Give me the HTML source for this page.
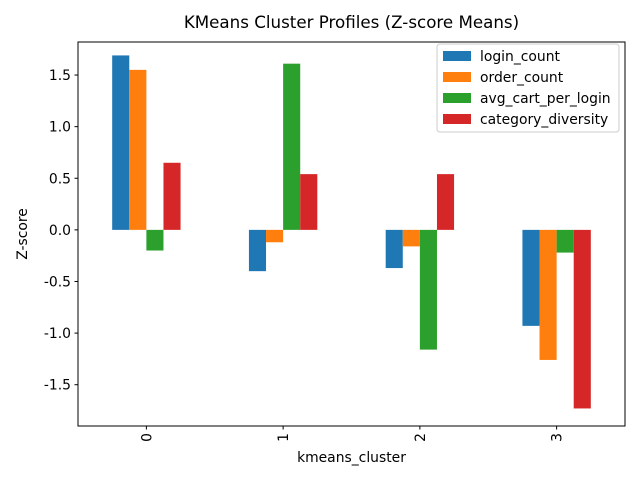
<!DOCTYPE html>
<html><head><meta charset="utf-8"><style>
body{margin:0;background:#fff;}
svg{font-family:"DejaVu Sans","Liberation Sans",sans-serif;}
</style></head><body>
<svg id="chart" width="640" height="480" xmlns="http://www.w3.org/2000/svg"></svg>
<script>
const categories = ["0","1","2","3"];
const seriesNames = ["login_count","order_count","avg_cart_per_login","category_diversity"];
const loginCount = [1.69,-0.40,-0.37,-0.93];
const orderCount = [1.55,-0.12,-0.16,-1.26];
const avgCart = [-0.20,1.61,-1.16,-0.22];
const categoryDiversity = [0.65,0.54,0.54,-1.73];
const yTicks = [-1.5,-1.0,-0.5,0.0,0.5,1.0,1.5];
const colors = ["#1f77b4","#ff7f0e","#2ca02c","#d62728"];
const series = [loginCount, orderCount, avgCart, categoryDiversity];

const NS="http://www.w3.org/2000/svg";
const svg=document.getElementById('chart');
const L=78,R=625,T=42,B=426;
const yMin=-1.90,yMax=1.82;
function y(v){return B-(v-yMin)/(yMax-yMin)*(B-T);}
const step=(R-L)/categories.length;
function xc(i){return L+step*(i+0.5);}
const bw=step*0.125;
function mk(tag,attrs,name,text){const e=document.createElementNS(NS,tag);for(const k in attrs)e.setAttribute(k,attrs[k]);


if(text!==undefined)e.textContent=text;svg.appendChild(e);return e;}

series.forEach((s,si)=>{
  s.forEach((v,i)=>{
    const x0=xc(i)-2*bw+si*bw;
    const y0=Math.min(y(v),y(0)), h=Math.abs(y(v)-y(0));
    mk('rect',{x:x0,y:y0,width:bw,height:h,fill:colors[si]},'bar-'+seriesNames[si]+'-'+categories[i]);
  });
});
mk('rect',{x:L,y:T,width:R-L,height:B-T,fill:'none',stroke:'#000','stroke-width':1},'plot-frame');
yTicks.forEach(t=>{
  const yy=y(t);
  mk('line',{x1:L-3.5,x2:L,y1:yy,y2:yy,stroke:'#000'},'y-tick');
  mk('text',{x:L-7,y:yy+5,'text-anchor':'end','font-size':13.9},'y-tick-label',t.toFixed(1));
});
categories.forEach((c,i)=>{
  const xx=xc(i);
  mk('line',{x1:xx,x2:xx,y1:B,y2:B+3.5,stroke:'#000'},'x-tick');
  mk('text',{x:0,y:0,'text-anchor':'end','font-size':13.9,transform:`translate(${xx+5},${B+7}) rotate(-90)`},'x-tick-label',c);
});
mk('text',{x:(L+R)/2,y:462,'text-anchor':'middle','font-size':13.9},'x-axis-title','kmeans_cluster');
mk('text',{x:0,y:0,'text-anchor':'middle','font-size':13.9,transform:`translate(27,${(T+B)/2}) rotate(-90)`},'y-axis-title','Z-score');
mk('text',{x:(L+R)/2,y:28,'text-anchor':'middle','font-size':16.7},'chart-title','KMeans Cluster Profiles (Z-score Means)');
mk('rect',{x:437,y:44,width:182,height:88,rx:3,fill:'#fff','fill-opacity':0.8,stroke:'#ccc'},'legend');
seriesNames.forEach((n,i)=>{
  const yy=56+i*21;
  mk('rect',{x:443,y:yy-5,width:28,height:10,fill:colors[i]},'legend-swatch-'+n);
  mk('text',{x:480,y:yy+5,'font-size':13.9},'legend-entry-'+n,n);
});
</script>
</body></html>
